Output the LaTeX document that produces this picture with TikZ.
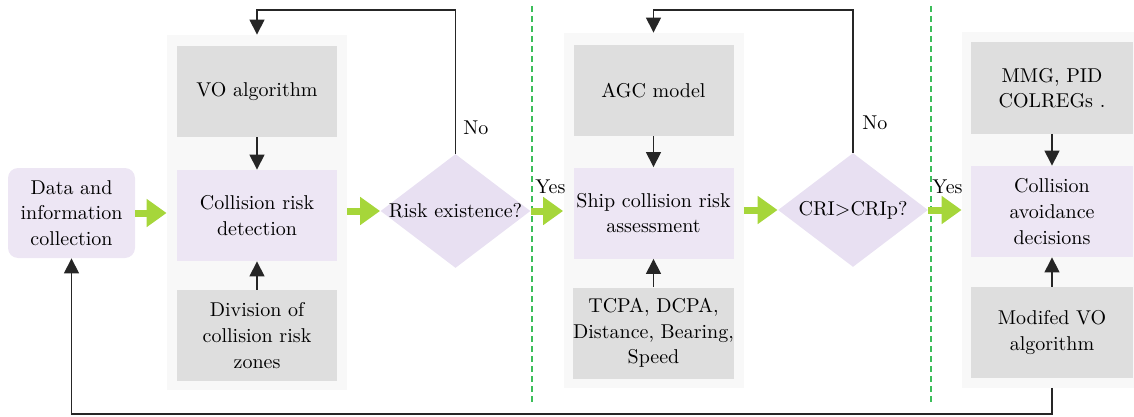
\documentclass[tikz,border=0pt]{standalone}
\usetikzlibrary{arrows.meta,shapes.geometric}
\definecolor{panelgray}{RGB}{248,248,248}
\definecolor{boxgray}{RGB}{222,222,222}
\definecolor{boxpurple}{RGB}{237,230,244}
\definecolor{diapurple}{RGB}{232,224,242}
\definecolor{arrgreen}{RGB}{166,214,58}
\definecolor{dashgreen}{RGB}{60,190,90}
\begin{document}
\begin{tikzpicture}[x=0.5pt,y=-0.5pt,
  font=\rmfamily\fontsize{10}{12.8}\selectfont,
  panel/.style={fill=panelgray, draw=none, inner sep=0pt, minimum width=90pt, minimum height=177.5pt},
  graybox/.style={fill=boxgray, draw=none, align=center, inner sep=0pt, minimum width=80pt, minimum height=45.5pt},
  purplebox/.style={fill=boxpurple, draw=none, align=center, inner sep=0pt, minimum width=80pt, minimum height=45.5pt},
  decision/.style={diamond, fill=diapurple, draw=none, inner sep=0pt, minimum width=75pt, minimum height=57pt},
  garrow/.style={draw=arrgreen, line width=3.5pt, -{Triangle[length=10pt,width=13.5pt]}},
  barrow/.style={draw=black!85, line width=0.6pt, -{Triangle[length=7.5pt,width=7.5pt]}},
  divider/.style={draw=dashgreen, line width=1pt, dash pattern=on 3pt off 2pt},
  lbl/.style={inner sep=0pt, anchor=west}
]
\useasboundingbox (0,0) rectangle (1134,417);

% panels
\node[panel] (lp) at (257,212.5) {};
\node[panel] (mp) at (653.5,210.5) {};
\node[panel] (rp) at (1052,210) {};

% left column
\node[purplebox, rounded corners=5pt, minimum width=63.5pt, minimum height=45pt] (data) at (71.5,213) {Data and\\information\\collection};
\node[graybox] (vo) at (257,91.5) {VO algorithm};
\node[purplebox] (crd) at (257,215.5) {Collision risk\\detection};
\node[graybox] (div) at (257,335.5) {Division of\\collision risk\\zones};

% middle column
\node[graybox] (agc) at (653.5,90.5) {AGC model};
\node[purplebox] (sca) at (653.5,213) {Ship collision risk\\assessment};
\node[graybox] (tcpa) at (653.5,333) {TCPA, DCPA,\\Distance, Bearing,\\Speed};

% right column
\node[graybox, minimum width=81pt] (mmg) at (1052,88) {MMG, PID\\COLREGs .};
\node[purplebox, minimum width=81pt] (cad) at (1052,211.5) {Collision\\avoidance\\decisions};
\node[graybox, minimum width=81pt] (mvo) at (1052,332.5) {Modifed VO\\algorithm};

% decisions
\node[decision] (d1) at (455.5,211) {};
\node at (d1) {Risk existence?};
\node[decision] (d2) at (853,210) {};
\node at (d2) {CRI>CRIp?};

% dashed dividers
\coordinate (t1) at (532,6);
\coordinate (b1) at (532,402);
\coordinate (t2) at (931,6);
\coordinate (b2) at (931,402);
\draw[divider] (t1) -- (b1);
\draw[divider] (t2) -- (b2);

% black arrows inside panels
\draw[barrow] (vo) -- (crd);
\draw[barrow] (div) -- (crd);
\draw[barrow] (agc) -- (sca);
\draw[barrow] (tcpa) -- (sca);
\draw[barrow] (mmg) -- (cad);
\draw[barrow] (mvo) -- (cad);

% green flow arrows
\draw[garrow] (data.east) -- (lp.west |- data.east);
\draw[garrow] (lp.east |- d1.west) -- (d1.west);
\draw[garrow] (d1.east) -- (mp.west |- d1.east);
\draw[garrow] (mp.east |- d2.west) -- (d2.west);
\draw[garrow] (d2.east) -- (rp.west |- d2.east);

% feedback loops
\draw[barrow] (d1.north) |- (257,10) -- (lp.north);
\draw[barrow] (d2.north) |- (653.5,10) -- (mp.north);
\draw[barrow] (rp.south) -- (1052,414) -| (data.south);

% labels
\node[lbl] (no1) at (463,128) {No};
\node[lbl] (no2) at (862,123) {No};
\node[lbl] (yes1) at (535,187) {Yes};
\node[lbl] (yes2) at (932,187) {Yes};
\end{tikzpicture}
\end{document}
